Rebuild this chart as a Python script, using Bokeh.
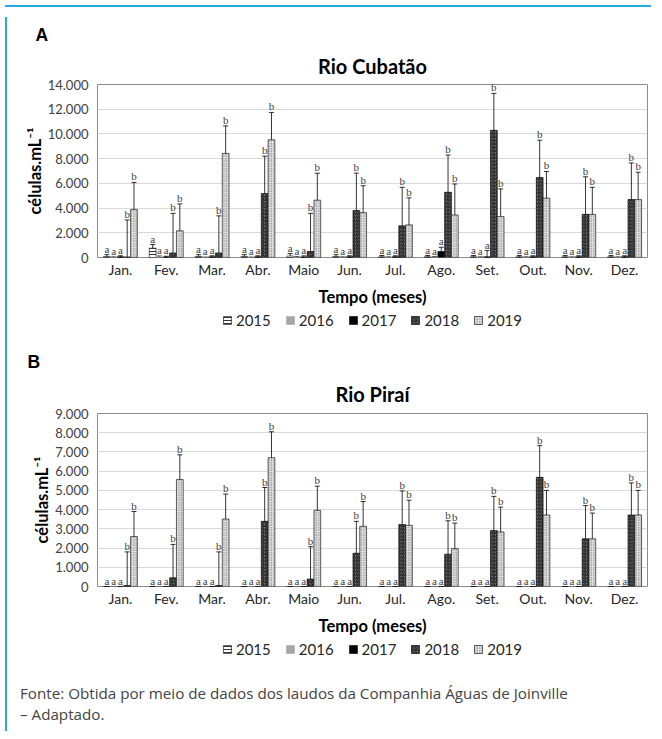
import numpy as np
from bokeh.plotting import figure
from bokeh.models import (ColumnDataSource, Whisker, TeeHead, FixedTicker, Legend,
                          LegendItem, Title, Div, Range1d)
from bokeh.layouts import column, row
from bokeh.embed import file_html
from bokeh.resources import INLINE

# ---------------- data ----------------
months = ["Jan.", "Fev.", "Mar.", "Abr.", "Maio", "Jun.", "Jul.", "Ago.", "Set.", "Out.", "Nov.", "Dez."]
years = ["2015", "2016", "2017", "2018", "2019"]
letters = ["a", "a", "a", "b", "b"]

# Rio Cubatão (células/mL): means and standard deviations
cub_2015 = [80, 750, 80, 80, 120, 80, 60, 60, 60, 60, 60, 60]
cub_2016 = [20, 60, 10, 10, 30, 20, 20, 30, 20, 20, 20, 20]
cub_2017 = [60, 40, 60, 60, 50, 60, 60, 480, 60, 60, 60, 60]
cub_2018 = [50, 370, 370, 5170, 480, 3810, 2560, 5280, 10290, 6480, 3490, 4690]
cub_2019 = [3890, 2160, 8420, 9530, 4640, 3630, 2640, 3440, 3310, 4800, 3490, 4690]
cub_sd_2015 = [150, 300, 150, 150, 200, 150, 100, 100, 100, 100, 100, 100]
cub_sd_2016 = [30, 60, 20, 20, 40, 30, 30, 40, 30, 30, 30, 30]
cub_sd_2017 = [80, 60, 80, 80, 80, 80, 80, 350, 500, 80, 80, 80]
cub_sd_2018 = [2990, 3200, 3000, 3030, 3090, 3020, 3120, 3010, 2990, 3010, 3040, 2960]
cub_sd_2019 = [2190, 2180, 2230, 2210, 2180, 2180, 2190, 2510, 2240, 2160, 2190, 2210]

# Rio Piraí
pir_2015 = [0, 0, 0, 0, 0, 0, 0, 0, 0, 0, 0, 0]
pir_2016 = [0, 0, 0, 0, 0, 0, 0, 0, 0, 0, 0, 0]
pir_2017 = [0, 0, 0, 0, 0, 0, 0, 0, 0, 0, 0, 0]
pir_2018 = [50, 450, 50, 3390, 390, 1730, 3220, 1680, 2910, 5680, 2480, 3720]
pir_2019 = [2600, 5570, 3510, 6700, 3960, 3130, 3180, 1970, 2840, 3720, 2480, 3720]
pir_sd_2015 = [0, 0, 0, 0, 0, 0, 0, 0, 0, 0, 0, 0]
pir_sd_2016 = [0, 0, 0, 0, 0, 0, 0, 0, 0, 0, 0, 0]
pir_sd_2017 = [0, 0, 0, 0, 0, 0, 0, 0, 0, 0, 0, 0]
pir_sd_2018 = [1750, 1740, 1750, 1760, 1680, 1660, 1750, 1740, 1780, 1650, 1730, 1670]
pir_sd_2019 = [1300, 1280, 1300, 1350, 1260, 1290, 1310, 1330, 1290, 1280, 1340, 1280]

cub_ticks = [0, 2000, 4000, 6000, 8000, 10000, 12000, 14000]
cub_tick_labels = ["0", "2.000", "4.000", "6.000", "8.000", "10.000", "12.000", "14.000"]
pir_ticks = [0, 1000, 2000, 3000, 4000, 5000, 6000, 7000, 8000, 9000]
pir_tick_labels = ["0", "1.000", "2.000", "3.000", "4.000", "5.000", "6.000", "7.000", "8.000", "9.000"]

caption = "Fonte: Obtida por meio de dados dos laudos da Companhia Águas de Joinville<br>– Adaptado."

# ---------------- styling ----------------
FONT = "Lato"
BAR_W = 0.148
BLUE = "#27aae1"
FRAME_H = 175
STYLES = [
    dict(fill_color="white", hatch_pattern="horizontal_line", hatch_color="black",
         hatch_scale=3, hatch_weight=0.8, line_color="black", line_width=0.6),
    dict(fill_color="#a6a6a6", line_color="#a6a6a6", line_width=0.6),
    dict(fill_color="black", line_color="black", line_width=0.6),
    dict(fill_color="#7a7a7a", hatch_pattern="right_diagonal_line", hatch_color="#111111",
         hatch_scale=3.5, hatch_weight=1, line_color="black", line_width=0.6),
    dict(fill_color="#e0e0e0", hatch_pattern="dot", hatch_color="#666666",
         hatch_scale=2.5, hatch_weight=0.8, line_color="black", line_width=0.6),
]


def make_chart(panel_letter, letter_offset, title, title_standoff, means, sds, ymax,
               ticks, tick_labels, top):
    p = figure(width=640, height=top + FRAME_H + 50, x_range=Range1d(-0.5, len(months) - 0.5),
               y_range=Range1d(0, ymax), output_backend="svg", toolbar_location=None,
               min_border_left=85, min_border_right=5, min_border_top=top,
               min_border_bottom=50)
    p.outline_line_color = "#8c8c8c"

    x0 = np.arange(len(months))
    for k, yr in enumerate(years):
        m = np.array(means[k], dtype=float)
        s = np.array(sds[k], dtype=float)
        src = ColumnDataSource(dict(x=x0 + (k - 2) * BAR_W, top=m, upper=m + s,
                                    lower=np.maximum(m - s, 0), lab=[letters[k]] * len(months)))
        p.vbar(x="x", top="top", width=BAR_W, source=src, **STYLES[k])
        p.add_layout(Whisker(base="x", upper="upper", lower="lower", source=src,
                             line_color="black", line_width=0.8,
                             upper_head=TeeHead(size=5, line_color="black", line_width=0.8),
                             lower_head=TeeHead(size=5, line_color="black", line_width=0.8)))
        p.text(x="x", y="upper", text="lab", source=src, text_font=FONT,
               text_font_size="11px", text_color="#404040", text_align="center",
               text_baseline="bottom")

    p.xgrid.visible = False
    p.ygrid.grid_line_color = "#d9d9d9"

    p.yaxis.ticker = FixedTicker(ticks=ticks)
    p.yaxis.major_label_overrides = {t: l for t, l in zip(ticks, tick_labels)}
    p.yaxis.axis_line_color = None
    p.yaxis.major_tick_line_color = None
    p.yaxis.minor_tick_line_color = None
    p.yaxis.major_tick_out = 0
    p.yaxis.major_label_text_font = FONT
    p.yaxis.major_label_text_font_size = "13px"
    p.yaxis.major_label_text_color = "#404040"
    p.yaxis.major_label_standoff = 9
    p.yaxis.axis_label = "células.mL⁻¹"
    p.yaxis.axis_label_text_font = FONT
    p.yaxis.axis_label_text_font_size = "16.5px"
    p.yaxis.axis_label_text_font_style = "bold"
    p.yaxis.axis_label_text_color = "black"
    p.yaxis.axis_label_standoff = 0

    p.xaxis.ticker = FixedTicker(ticks=[int(i) for i in x0])
    p.xaxis.major_label_overrides = {int(i): mo for i, mo in zip(x0, months)}
    p.xaxis.axis_line_color = None
    p.xaxis.major_tick_line_color = None
    p.xaxis.minor_tick_line_color = None
    p.xaxis.major_tick_out = 0
    p.xaxis.major_label_text_font = FONT
    p.xaxis.major_label_text_font_size = "14px"
    p.xaxis.major_label_text_color = "#262626"
    p.xaxis.major_label_standoff = 3
    p.xaxis.axis_label = "Tempo (meses)"
    p.xaxis.axis_label_text_font = FONT
    p.xaxis.axis_label_text_font_size = "16.5px"
    p.xaxis.axis_label_text_font_style = "bold"
    p.xaxis.axis_label_text_color = "black"
    p.xaxis.axis_label_standoff = 6

    p.add_layout(Title(text=title, align="center", text_font=FONT, text_font_size="20px",
                       text_font_style="bold", text_color="black",
                       standoff=title_standoff), "above")
    p.add_layout(Title(text=panel_letter, align="left", offset=letter_offset,
                       text_font="Liberation Sans", text_font_size="17.5px",
                       text_font_style="bold", text_color="black", standoff=0), "above")
    return p


def make_legend():
    q = figure(width=640, height=22, x_range=Range1d(0, 1), y_range=Range1d(0, 1),
               output_backend="svg", toolbar_location=None, x_axis_location=None,
               y_axis_location=None, min_border_left=85, min_border_right=5,
               min_border_top=0, min_border_bottom=0)
    q.outline_line_color = None
    q.grid.visible = False
    items = []
    for k, yr in enumerate(years):
        # zero-height placeholder bar outside the visible range: it only carries the style
        r = q.vbar(x=[-5], top=[0], width=0.1, **STYLES[k])
        items.append(LegendItem(label=yr, renderers=[r]))
    q.add_layout(Legend(items=items, orientation="horizontal", location="center",
                        label_text_font=FONT, label_text_font_size="15px",
                        label_text_color="#262626", glyph_width=10, glyph_height=10,
                        label_standoff=4, spacing=14, padding=0, margin=0,
                        label_height=16, border_line_color=None,
                        background_fill_alpha=0))
    return q


pA = make_chart("A", -62, "Rio Cubatão", 14,
                [cub_2015, cub_2016, cub_2017, cub_2018, cub_2019],
                [cub_sd_2015, cub_sd_2016, cub_sd_2017, cub_sd_2018, cub_sd_2019],
                14000, cub_ticks, cub_tick_labels, 72)
pB = make_chart("B", -70, "Rio Piraí", 16,
                [pir_2015, pir_2016, pir_2017, pir_2018, pir_2019],
                [pir_sd_2015, pir_sd_2016, pir_sd_2017, pir_sd_2018, pir_sd_2019],
                9000, pir_ticks, pir_tick_labels, 82)

cap = Div(text=caption, width=640, height=66,
          styles={"font-family": "Open Sans", "font-size": "15.2px", "color": "#444444",
                  "line-height": "21px", "padding-left": "3px", "padding-top": "18px"})

top_border = Div(text="", width=646, height=2, styles={"background-color": BLUE})
left_border = Div(text="", width=2, height=714, styles={"background-color": BLUE})

body = column(pA, make_legend(), pB, make_legend(), cap, spacing=0)
layout = column(top_border, row(left_border, body, spacing=0), spacing=0)

open("out.html", "w").write(file_html(layout, INLINE))
